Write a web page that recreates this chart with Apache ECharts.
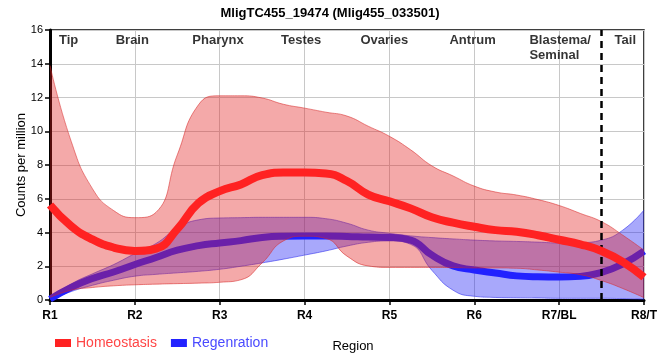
<!DOCTYPE html>
<html>
<head>
<meta charset="utf-8">
<script src="https://cdn.jsdelivr.net/npm/echarts@6/dist/echarts.min.js"></script>
<style>html,body{margin:0;padding:0;background:#fff}#c{width:660px;height:360px}</style>
</head>
<body>
<div id="c"></div>
<script>
// Region tick labels (x = 1..8)
const tickLabels = ['R1','R2','R3','R4','R5','R6','R7/BL','R8/T'];
// Sample positions along the body axis (region units)
const xs = [1,1.25,1.5,1.75,2,2.25,2.5,2.75,3,3.25,3.5,3.75,4,4.25,4.5,4.75,5,5.25,5.5,5.75,6,6.25,6.5,6.75,7,7.25,7.5,7.75,8];

// Homeostasis
const homMean  = [5.63,4.38,3.59,3.11,2.91,3.05,4.2,5.75,6.45,6.85,7.4,7.55,7.55,7.5,7.05,6.25,5.85,5.43,4.9,4.58,4.34,4.14,4.04,3.84,3.57,3.3,2.9,2.26,1.35];
const homUpper = [13.9,9.4,6.6,5.3,4.88,5.2,8.6,11.57,12.1,12.1,11.97,11.6,11.37,11.13,10.9,10.3,9.7,8.9,7.95,7.35,6.75,6.4,6.22,5.95,5.6,5.13,4.64,3.84,2.95];
const homLower = [0.15,0.58,0.74,0.84,0.9,0.94,0.97,1.0,1.05,1.2,2.2,3.5,3.78,3.65,2.6,2.02,1.93,1.93,1.93,1.92,1.9,1.9,1.88,1.78,1.65,1.5,1.15,0.68,0.14];

// Regeneration
const regMean  = [0.05,0.75,1.27,1.66,2.1,2.52,2.95,3.22,3.38,3.52,3.71,3.78,3.79,3.79,3.77,3.73,3.71,3.55,2.66,2.02,1.78,1.6,1.43,1.38,1.37,1.4,1.64,2.14,2.9];
const regUpper = [0.1,0.95,1.55,2.1,2.75,3.35,4.25,4.75,4.86,4.88,4.9,4.9,4.9,4.82,4.55,4.14,3.95,3.8,3.7,3.62,3.55,3.5,3.47,3.43,3.38,3.4,3.55,4.14,5.33];
const regLower = [0,0.5,0.87,1.17,1.41,1.52,1.61,1.7,1.82,2.0,2.2,2.42,2.66,2.91,3.2,3.42,3.5,3.3,1.76,0.58,0.22,0.15,0.13,0.12,0.1,0.1,0.1,0.08,0.05];

// Region annotations along the top
const regionNames = ['Tip','Brain','Pharynx','Testes','Ovaries','Antrum','Blastema/\nSeminal','Tail'];
const regionX = [1.22,1.97,2.98,3.96,4.94,5.98,6.65,7.78];
const regionTop = 16;
const boundaryX = 7.5;

const FONT = 'Liberation Sans, Arial, sans-serif';
const cats = xs.map(String);
const diff = (u,l) => u.map((v,i)=> +(v-l[i]).toFixed(3));

const RED_BAND = 'rgba(225,30,30,0.38)';
const RED_EDGE = 'rgba(215,40,40,0.55)';
const BLUE_BAND = 'rgba(30,30,245,0.39)';
const BLUE_EDGE = 'rgba(40,40,235,0.55)';
const SMOOTH = 0.5;

const chart = echarts.init(document.getElementById('c'), null, {renderer:'canvas'});
chart.setOption({
  animation:false,
  title:{text:'MligTC455_19474 (Mlig455_033501)', left:'center', top:2,
    textStyle:{fontFamily:FONT, fontSize:13, fontWeight:'bold', color:'#000'}},
  grid:{left:50, right:10, top:30, bottom:60, show:true, borderColor:'#000', borderWidth:1.5},
  legend:{left:55, top:336, padding:0, itemWidth:16, itemHeight:8, itemGap:14, icon:'rect',
    textStyle:{fontFamily:FONT, fontSize:14},
    data:[{name:'Homeostasis', textStyle:{color:'#ff4545'}},{name:'Regenration', textStyle:{color:'#4a4aff'}}]},
  xAxis:[{type:'category', data:cats, boundaryGap:false,
    name:'Region', nameLocation:'middle', nameGap:40, nameMoveOverlap:false,
    nameTextStyle:{fontFamily:FONT, fontSize:13, color:'#000', padding:[0,0,0,12]},
    axisLine:{lineStyle:{color:'#000', width:3}},
    axisTick:{show:true, interval:3, length:5, lineStyle:{color:'#000', width:1.5}},
    axisLabel:{interval:3, fontFamily:FONT, fontSize:12, fontWeight:'bold', color:'#000', margin:10,
      formatter:v => tickLabels[Math.round(Number(v))-1] || ''},
    splitLine:{show:true, interval:3, lineStyle:{color:'#c8c8c8', width:1}}},
    {type:'value', min:1, max:8, show:false}],
  yAxis:{type:'value', min:0, max:16, interval:2,
    name:'Counts per million', nameLocation:'middle', nameGap:22, nameRotate:90, nameMoveOverlap:false,
    nameTextStyle:{fontFamily:FONT, fontSize:13, color:'#000'},
    axisLine:{show:true, lineStyle:{color:'#000', width:3}},
    axisTick:{show:true, length:5, lineStyle:{color:'#000', width:1.5}},
    axisLabel:{fontFamily:FONT, fontSize:11, color:'#000', margin:7},
    splitLine:{show:true, lineStyle:{color:'#c8c8c8', width:1}}},
  series:[
    {name:'regLower', type:'line', stack:'reg', z:2, data:regLower, smooth:SMOOTH, showSymbol:false, silent:true,
      lineStyle:{color:BLUE_EDGE, width:1}},
    {name:'regBand', type:'line', stack:'reg', z:2, data:diff(regUpper,regLower), smooth:SMOOTH, showSymbol:false, silent:true,
      lineStyle:{color:BLUE_EDGE, width:1}, areaStyle:{color:BLUE_BAND, opacity:1}},
    {name:'Regenration', type:'line', z:3, data:regMean, smooth:SMOOTH, showSymbol:false,
      itemStyle:{color:'#2222ff'}, lineStyle:{color:'#2222ff', width:7}},
    {name:'homLower', type:'line', stack:'hom', z:4, data:homLower, smooth:SMOOTH, showSymbol:false, silent:true,
      lineStyle:{color:RED_EDGE, width:1}},
    {name:'homBand', type:'line', stack:'hom', z:4, data:diff(homUpper,homLower), smooth:SMOOTH, showSymbol:false, silent:true,
      lineStyle:{color:RED_EDGE, width:1}, areaStyle:{color:RED_BAND, opacity:1}},
    {name:'Homeostasis', type:'line', z:5, data:homMean, smooth:SMOOTH, showSymbol:false,
      itemStyle:{color:'#ff2222'}, lineStyle:{color:'#ff2222', width:8}},
    {name:'regions', type:'scatter', xAxisIndex:1, symbolSize:1, itemStyle:{color:'transparent'}, silent:true, z:10,
      data:regionNames.map((n,i)=>({value:[regionX[i], regionTop], name:n,
        label: n.indexOf('\n')>=0 ? {align:'left'} : {}})),
      label:{show:true, position:'inside', align:'center', verticalAlign:'top', offset:[0,3],
        formatter:p=>p.name, fontFamily:FONT, fontSize:13, fontWeight:'bold', color:'#000', lineHeight:15},
      markLine:{silent:true, symbol:'none', label:{show:false},
        lineStyle:{color:'#000', type:[7,5], width:2.5},
        data:[{xAxis:boundaryX}]}}
  ]
});
</script>
</body>
</html>
